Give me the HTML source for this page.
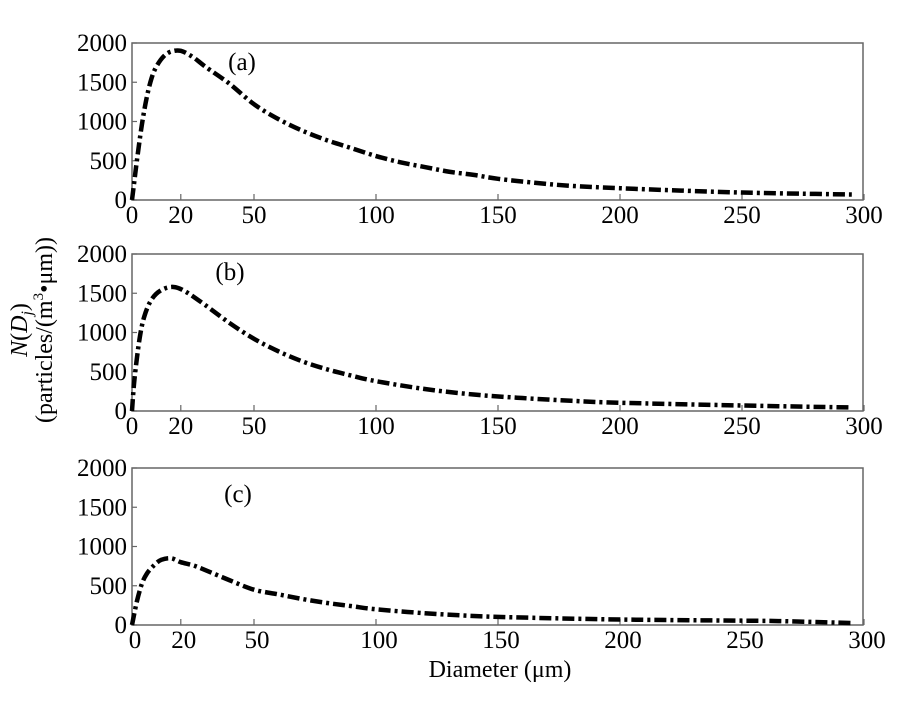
<!DOCTYPE html>
<html><head><meta charset="utf-8"><style>
html,body{margin:0;padding:0;background:#fff;}
svg{display:block;font-family:"Liberation Serif",serif;}
</style></head><body>
<svg width="900" height="705" viewBox="0 0 900 705" xmlns="http://www.w3.org/2000/svg">
<g id="root"></g>
<text x="27" y="330" font-size="24" text-anchor="middle" transform="rotate(-90 27 330)"><tspan font-style="italic">N</tspan>(<tspan font-style="italic">D</tspan><tspan font-style="italic" font-size="16" dy="5">j</tspan><tspan dy="-5">)</tspan></text>
<text x="52" y="330" font-size="24" text-anchor="middle" transform="rotate(-90 52 330)">(particles/(m<tspan font-size="15" dy="-9">3</tspan><tspan dy="9">•μm))</tspan></text>
<text x="500" y="677" font-size="24" text-anchor="middle">Diameter (μm)</text>
</svg>
<script>
const NS="http://www.w3.org/2000/svg";
const root=document.getElementById('root');
function el(t,a,txt){const e=document.createElementNS(NS,t);for(const k in a)e.setAttribute(k,a[k]);if(txt!==undefined)e.textContent=txt;root.appendChild(e);return e;}
const panels=[
 {top:43,bot:200,lab:"(a)",lx:242,ly:70,xo:0,data:[[0,0],[1,250],[2,500],[4,950],[6,1300],[8,1550],[10,1700],[13,1830],[16,1890],[20,1900],[25,1820],[30,1700],[40,1480],[50,1220],[60,1030],[70,880],[80,760],[90,660],[100,560],[110,480],[120,420],[130,360],[140,320],[150,270],[165,220],[180,180],[200,150],[225,120],[250,95],[275,80],[295,70]]},
 {top:254,bot:411,lab:"(b)",lx:230,ly:280,xo:0,data:[[0,0],[1,400],[3,900],[5,1200],[8,1420],[12,1540],[17,1580],[22,1520],[30,1350],[40,1120],[50,920],[60,760],[70,630],[80,530],[90,450],[100,380],[120,280],[140,210],[160,165],[180,130],[200,105],[250,70],[295,45]]},
 {top:468,bot:625,lab:"(c)",lx:238,ly:502,xo:3,data:[[0,0],[2,300],[4,520],[6,650],[9,760],[12,830],[16,850],[20,800],[25,760],[30,700],[40,570],[50,450],[60,390],[70,330],[80,280],[90,240],[100,200],[120,150],[140,115],[160,95],[200,70],[250,55],[265,50],[295,25]]}
];
const L=132,R=863,sx=2.44;
panels.forEach(p=>{
 const h=p.bot-p.top;
 const X=d=>L+d*sx, Y=v=>p.bot-v/2000*h;
 el('rect',{x:L,y:p.top,width:R-L,height:h,fill:'none',stroke:'#666','stroke-width':1.5});
 [0,500,1000,1500,2000].forEach(v=>{
  el('line',{x1:L,x2:L+5,y1:Y(v),y2:Y(v),stroke:'#666','stroke-width':1.2});
  el('text',{x:127,y:Y(v)+8,'font-size':25,'text-anchor':'end'},String(v));
 });
 [0,20,50,100,150,200,250,300].forEach(d=>{
  el('line',{x1:X(d),x2:X(d),y1:p.bot,y2:p.bot-6,stroke:'#666','stroke-width':1.2});
  el('text',{x:X(d)+p.xo,y:p.bot+23,'font-size':25,'text-anchor':'middle'},String(d));
 });
 el('text',{x:p.lx,y:p.ly,'font-size':25,'text-anchor':'middle'},p.lab);
 const pts=p.data.map(([d,v])=>[X(d),Y(v)]);
 let s="M"+pts[0][0]+","+pts[0][1];
 for(let i=0;i<pts.length-1;i++){
  const p0=pts[i-1]||pts[i],p1=pts[i],p2=pts[i+1],p3=pts[i+2]||p2;
  const c1=[p1[0]+(p2[0]-p0[0])/6,p1[1]+(p2[1]-p0[1])/6];
  const c2=[p2[0]-(p3[0]-p1[0])/6,p2[1]-(p3[1]-p1[1])/6];
  s+=` C${c1[0]},${c1[1]} ${c2[0]},${c2[1]} ${p2[0]},${p2[1]}`;
 }
 el('path',{d:s,fill:'none',stroke:'#000','stroke-width':4.5,'stroke-dasharray':'12 4 3 4'});
});
</script>
</body></html>
